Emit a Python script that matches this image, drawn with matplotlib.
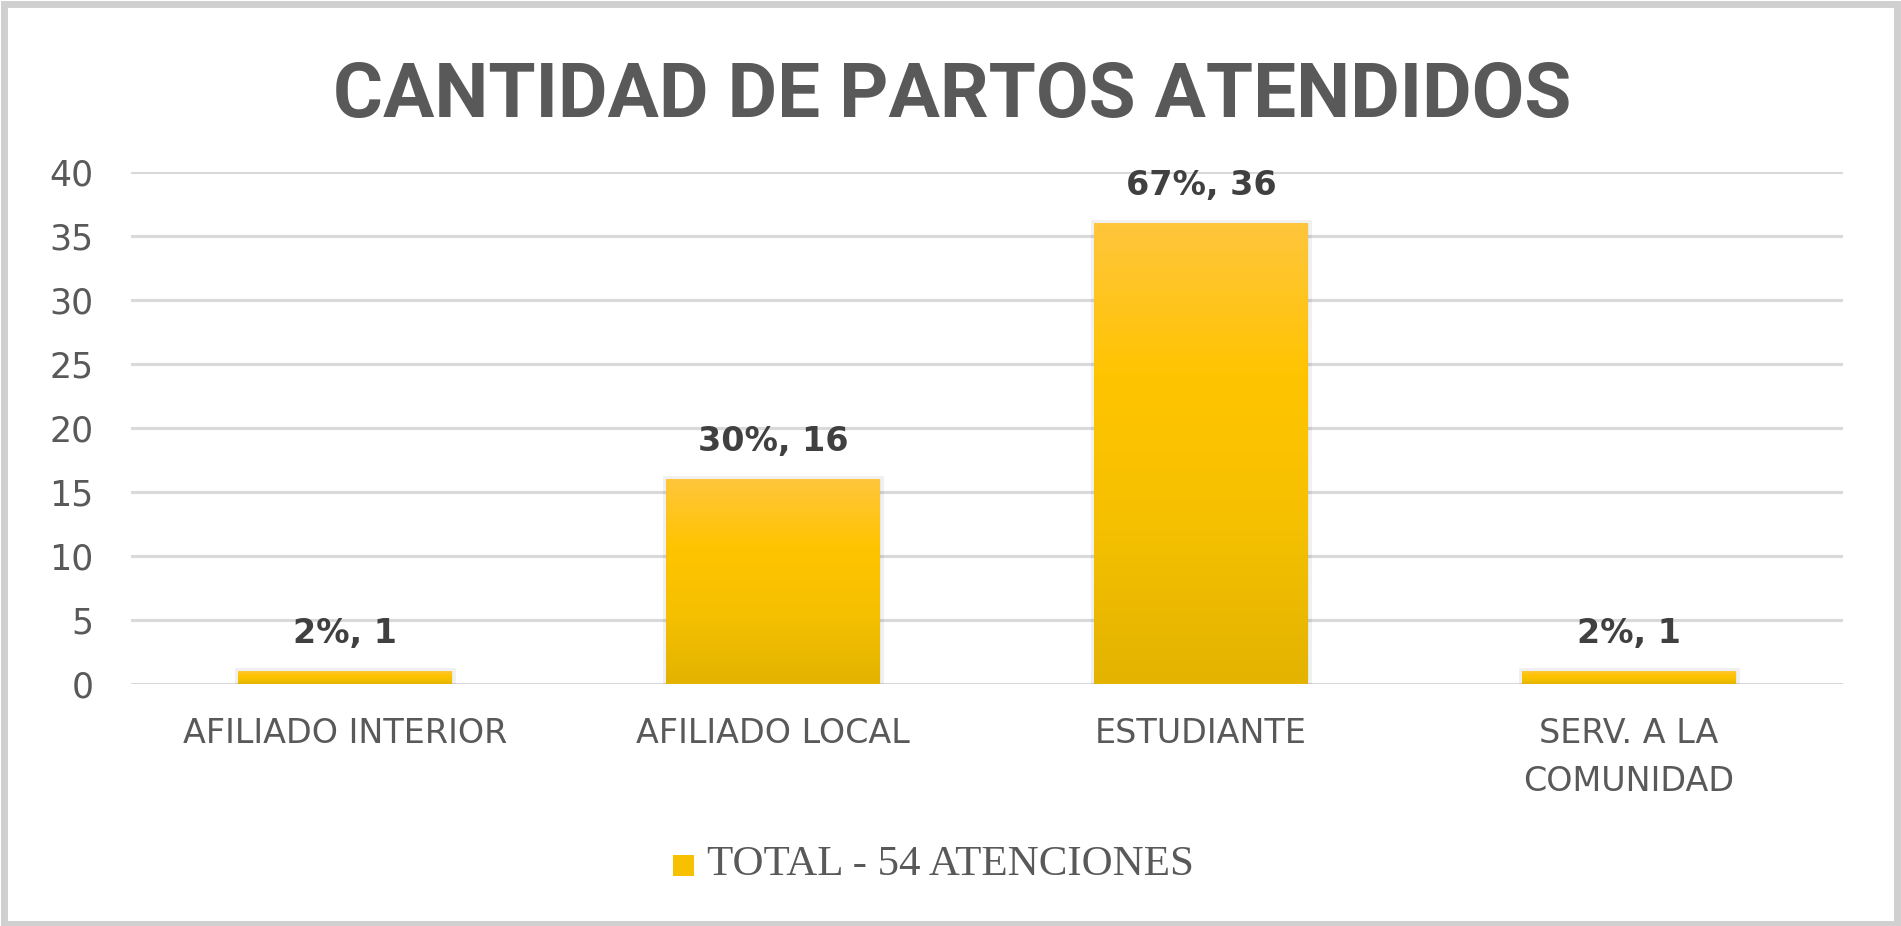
import matplotlib
matplotlib.use("Agg")
import matplotlib.pyplot as plt
import numpy as np
from matplotlib.colors import LinearSegmentedColormap
from matplotlib.patches import Rectangle

categories = ["AFILIADO INTERIOR", "AFILIADO LOCAL", "ESTUDIANTE", "SERV. A LA\nCOMUNIDAD"]
values = [1, 16, 36, 1]
percent_labels = ["2%", "30%", "67%", "2%"]
title = "CANTIDAD DE PARTOS ATENDIDOS"
legend_label = "TOTAL - 54 ATENCIONES"
yticks = [0, 5, 10, 15, 20, 25, 30, 35, 40]

W, H = 1901, 926
fig = plt.figure(figsize=(W / 100, H / 100), dpi=100)
fig.patch.set_facecolor("white")

left, right = 131, 1843
top, bottom = 172, 684
ax = fig.add_axes([left / W, 1 - bottom / H, (right - left) / W, (bottom - top) / H])
ax.set_facecolor("white")

x = np.arange(len(categories))
ax.set_xlim(-0.5, len(categories) - 0.5)
ax.set_ylim(0, 40)

cmap = LinearSegmentedColormap.from_list("gold", ["#E3B300", "#F5C000", "#FFC400", "#FFC63C"])
bars = ax.bar(x, values, width=0.5, color="#FFC000", edgecolor="none", zorder=3)
grad = np.linspace(0, 1, 256).reshape(-1, 1)
for b in bars:
    bx, by = b.get_x(), b.get_y()
    bw, bh = b.get_width(), b.get_height()
    sh = Rectangle((bx, by), bw, bh, facecolor="#000000", alpha=0.06, edgecolor="#000000",
                   linewidth=5, zorder=2)
    ax.add_patch(sh)
    im = ax.imshow(grad, cmap=cmap, origin="lower", aspect="auto",
                   extent=(bx, bx + bw, by, by + bh), zorder=4)
    im.set_clip_path(b)

for xi, v, p in zip(x, values, percent_labels):
    ax.annotate(f"{p}, {v}", (xi, v), xytext=(0, 15), textcoords="offset points",
                ha="center", va="bottom", fontsize=24, fontweight="bold",
                color="#404040", family="DejaVu Sans", zorder=5)

ax.set_yticks(yticks)
ax.set_yticklabels([str(t) for t in yticks], fontsize=25, color="#595959", family="DejaVu Sans")
ax.set_xticks(x)
ax.set_xticklabels(categories, fontsize=24, color="#595959", family="DejaVu Sans", linespacing=1.55)
ax.tick_params(axis="both", length=0)
ax.tick_params(axis="y", pad=27)
ax.tick_params(axis="x", pad=24)
ax.yaxis.grid(True, color="#d9d9d9", linewidth=2.2, zorder=0)
ax.set_axisbelow(True)
for s in ax.spines.values():
    s.set_visible(False)

fig.text(952 / W, 1 - 117 / H, title, ha="center", va="baseline", fontsize=55,
         fontweight="bold", color="#595959", family=["Roboto", "Open Sans"])

fig.patches.append(Rectangle((673 / W, 1 - 876 / H), 21 / W, 21 / H, transform=fig.transFigure,
                             facecolor="#F7C000", edgecolor="none"))
fig.text(707 / W, 1 - 865 / H, legend_label, ha="left", va="center", fontsize=31,
         color="#595959", family="Liberation Serif")

fig.patches.append(Rectangle((0.002, 0.002), 0.996, 0.994, transform=fig.transFigure,
                             facecolor="none", edgecolor="#d0d0d0", linewidth=5))

fig.savefig("out.png", dpi=100, facecolor="white")
